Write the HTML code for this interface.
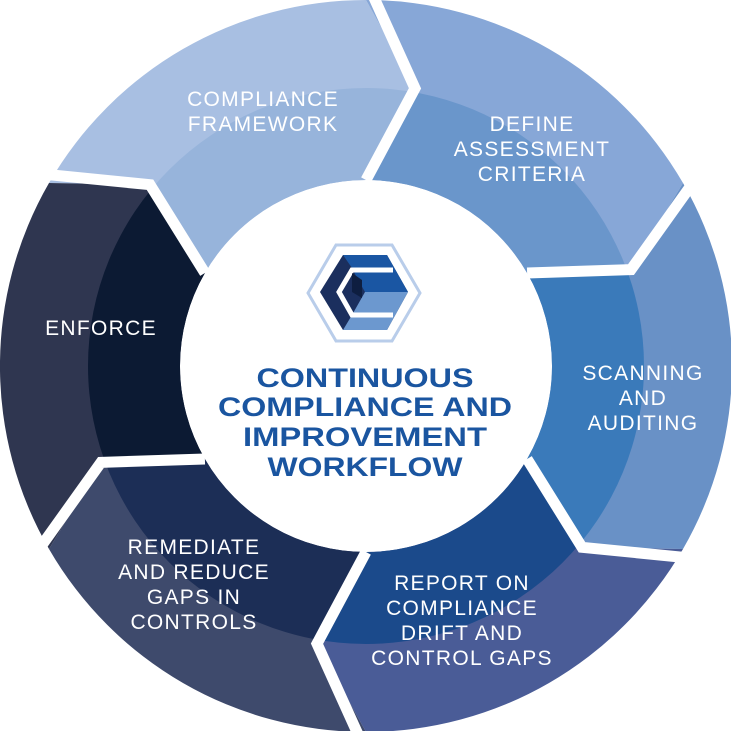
<!DOCTYPE html>
<html><head><meta charset="utf-8"><style>
html,body{margin:0;padding:0;background:#fff;}
svg{display:block;}
.l{font-family:"Liberation Sans",sans-serif;font-size:21px;fill:#fff;text-anchor:middle;letter-spacing:1.3px;}
.t{font-family:"Liberation Sans",sans-serif;font-size:27px;fill:#1a55a0;text-anchor:middle;font-weight:bold;}
</style></head><body>
<svg width="731" height="731" viewBox="0 0 731 731" xmlns="http://www.w3.org/2000/svg">
<defs><clipPath id="ic"><circle cx="366" cy="366" r="278"/></clipPath></defs>
<g id="segs">
<path d="M49,183 A366,366 0 0 1 366,0 L415,88.3 L366,180 A186,186 0 0 0 204.9,273 L150,184.7 Z" fill="#a8bfe2"/>
<path d="M49,183 A366,366 0 0 1 366,0 L415,88.3 L366,180 A186,186 0 0 0 204.9,273 L150,184.7 Z" fill="#97b4db" clip-path="url(#ic)"/>
<path d="M366,0 A366,366 0 0 1 683,183 L631,269.6 L527.1,273 A186,186 0 0 0 366,180 L415,88.3 Z" fill="#87a7d7"/>
<path d="M366,0 A366,366 0 0 1 683,183 L631,269.6 L527.1,273 A186,186 0 0 0 366,180 L415,88.3 Z" fill="#6a96cb" clip-path="url(#ic)"/>
<path d="M683,183 A366,366 0 0 1 683,549 L582,547.3 L527.1,459 A186,186 0 0 0 527.1,273 L631,269.6 Z" fill="#6991c6"/>
<path d="M683,183 A366,366 0 0 1 683,549 L582,547.3 L527.1,459 A186,186 0 0 0 527.1,273 L631,269.6 Z" fill="#3a7aba" clip-path="url(#ic)"/>
<path d="M683,549 A366,366 0 0 1 366,732 L317,643.7 L366,552 A186,186 0 0 0 527.1,459 L582,547.3 Z" fill="#4a5c97"/>
<path d="M683,549 A366,366 0 0 1 366,732 L317,643.7 L366,552 A186,186 0 0 0 527.1,459 L582,547.3 Z" fill="#1b4a8b" clip-path="url(#ic)"/>
<path d="M366,732 A366,366 0 0 1 49,549 L101,462.4 L204.9,459 A186,186 0 0 0 366,552 L317,643.7 Z" fill="#3e4a6c"/>
<path d="M366,732 A366,366 0 0 1 49,549 L101,462.4 L204.9,459 A186,186 0 0 0 366,552 L317,643.7 Z" fill="#1c2e56" clip-path="url(#ic)"/>
<path d="M49,549 A366,366 0 0 1 49,183 L150,184.7 L204.9,273 A186,186 0 0 0 204.9,459 L101,462.4 Z" fill="#2f3650"/>
<path d="M49,549 A366,366 0 0 1 49,183 L150,184.7 L204.9,273 A186,186 0 0 0 204.9,459 L101,462.4 Z" fill="#0c1a33" clip-path="url(#ic)"/>
</g>
<g stroke="#fff" stroke-width="11" fill="none" stroke-linejoin="miter">
<polyline points="366,-20 415,88.3 366,180"/>
<polyline points="700,173 631,269.6 527.1,273"/>
<polyline points="700,559 582,547.3 527.1,459"/>
<polyline points="366,752 317,643.7 366,552"/>
<polyline points="32,559 101,462.4 204.9,459"/>
<polyline points="32,173 150,184.7 204.9,273"/>
</g>
<circle cx="366" cy="366" r="183" fill="#fff"/>
<polygon points="308,293 336,245 392,245 420,293 392,341 336,341" fill="none" stroke="#b9cdea" stroke-width="3"/>
<polygon points="343,255 387,255 408,292 387,330 343,330 320,292" fill="#1b2f5e"/>
<polygon points="343,255 387,255 408,292 365,292 356,276 352,268" fill="#1a56a3"/>
<polygon points="365,292 408,292 387,330 343,330 352,315" fill="#6c98cf"/>
<polyline points="393,270 352,270 339,292 352,315 393,315" fill="none" stroke="#fff" stroke-width="5"/>
<polygon points="352,273 362,280 362,298 352,292" fill="#0e1e40"/>
<text class="t" x="365" y="387" textLength="217" lengthAdjust="spacingAndGlyphs">CONTINUOUS</text>
<text class="t" x="365" y="416" textLength="294" lengthAdjust="spacingAndGlyphs">COMPLIANCE AND</text>
<text class="t" x="365" y="446" textLength="244" lengthAdjust="spacingAndGlyphs">IMPROVEMENT</text>
<text class="t" x="365" y="476" textLength="195" lengthAdjust="spacingAndGlyphs">WORKFLOW</text>
<text class="l" x="263" y="106">COMPLIANCE</text>
<text class="l" x="263" y="131">FRAMEWORK</text>
<text class="l" x="532" y="131">DEFINE</text>
<text class="l" x="532" y="156">ASSESSMENT</text>
<text class="l" x="532" y="181">CRITERIA</text>
<text class="l" x="643" y="380">SCANNING</text>
<text class="l" x="643" y="405">AND</text>
<text class="l" x="643" y="430">AUDITING</text>
<text class="l" x="101" y="335">ENFORCE</text>
<text class="l" x="194" y="554">REMEDIATE</text>
<text class="l" x="194" y="579">AND REDUCE</text>
<text class="l" x="194" y="604">GAPS IN</text>
<text class="l" x="194" y="629">CONTROLS</text>
<text class="l" x="462" y="590">REPORT ON</text>
<text class="l" x="462" y="615">COMPLIANCE</text>
<text class="l" x="462" y="640">DRIFT AND</text>
<text class="l" x="462" y="665">CONTROL GAPS</text>
</svg>
</body></html>
